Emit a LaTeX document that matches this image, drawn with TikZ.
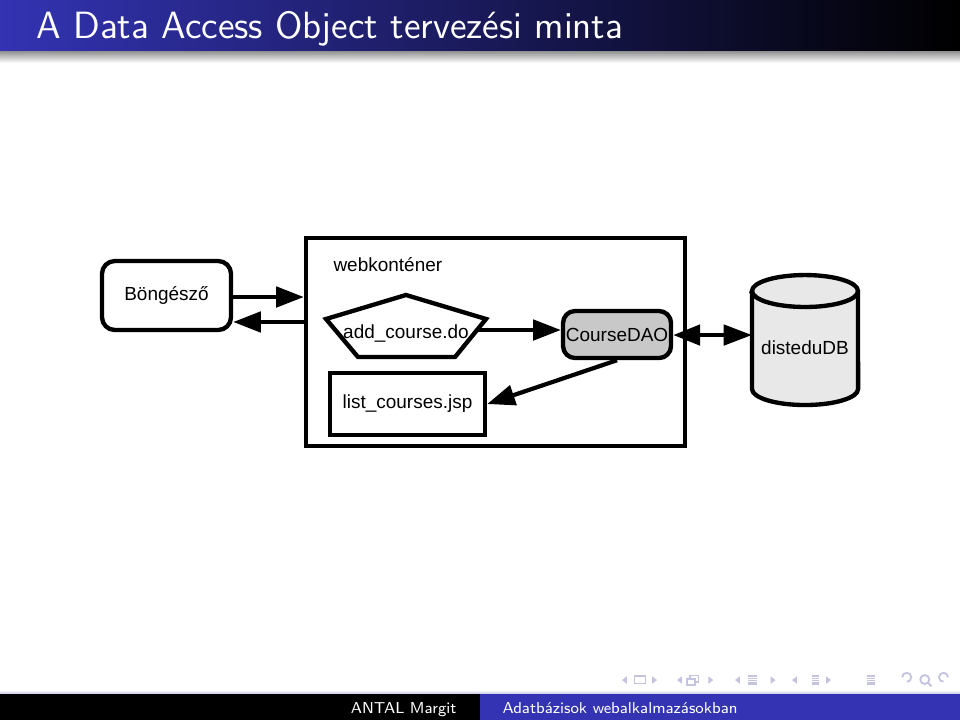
\documentclass[tikz,border=0pt]{standalone}
\usepackage{fontspec}
\newfontfamily\diafont{Liberation Sans}
\usetikzlibrary{positioning, arrows.meta, calc}
\definecolor{beamerblue}{RGB}{51,51,179}
\definecolor{daogray}{RGB}{200,200,200}
\definecolor{dbgray}{RGB}{232,232,232}
\definecolor{navgray}{RGB}{196,196,224}

\begin{document}
\begin{tikzpicture}[
  dia/.style={font=\diafont\fontsize{7.2}{8.6}\selectfont},
  box/.style={dia, draw, line width=1.65pt, inner sep=0pt, align=center},
  link/.style={line width=1.6pt, -{Triangle[length=3.7mm,width=2.7mm]}},
  duplex/.style={line width=1.6pt, {Triangle[length=3.6mm,width=2.7mm]}-{Triangle[length=3.8mm,width=2.7mm]}},
  foot/.style={font=\sffamily\fontsize{6}{7}\selectfont, text=white, inner sep=0pt}
]
  % slide frame
  \useasboundingbox (0,0) rectangle (12.8,-9.6);
  \fill[white] (0,0) rectangle (12.8,-9.6);
  \shade[left color=beamerblue, right color=black] (0,0) rectangle (12.8,-0.693);
  \shade[top color=black!40, bottom color=white] (0,-0.693) rectangle (12.8,-0.84);
  \node[anchor=base west, inner sep=0pt, text=white,
        font=\sffamily\fontsize{14.4}{17}\selectfont] (title) at (0.48,-0.507)
        {A Data Access Object tervezési minta};

  % footline
  \shade[top color=white, bottom color=navgray] (0,-9.2) rectangle (12.8,-9.253);
  \fill[black] (0,-9.253) rectangle (6.4,-9.6);
  \fill[beamerblue] (6.4,-9.253) rectangle (12.8,-9.6);
  \node[foot, anchor=base east] (author) at (6.093,-9.507) {ANTAL Margit};
  \node[foot, anchor=base west] (course) at (6.693,-9.507) {Adatbázisok webalkalmazásokban};

  % navigation symbols
  \foreach \l/\r in {8.293/8.76, 9.027/9.51, 9.8/10.34, 10.56/11.08} {
    \fill[navgray] (\l,-9.067) -- ++(0.065,0.05) -- ++(0,-0.1) -- cycle;
    \fill[navgray] (\r,-9.067) -- ++(-0.065,0.05) -- ++(0,-0.1) -- cycle;
  }
  \draw[navgray, line width=0.6pt] (8.46,-9.015) rectangle (8.607,-9.115);
  \draw[navgray, line width=0.6pt] (9.16,-9.05) rectangle (9.27,-9.135)
        (9.2,-9.05) -- (9.2,-9.005) -- (9.315,-9.005) -- (9.315,-9.09) -- (9.27,-9.09);
  \foreach \x/\w in {9.973/0.12, 10.827/0.09, 11.56/0.1}
    \foreach \y in {-9.015,-9.045,-9.075,-9.105,-9.13}
      \draw[navgray, line width=0.5pt] (\x,\y) -- ++(\w,0);
  \draw[navgray, line width=0.7pt] (12.03,-9.03) arc[start angle=180, end angle=-90, radius=0.06];
  \draw[navgray, line width=0.7pt] (12.33,-9.06) circle[radius=0.06] (12.375,-9.105) -- (12.42,-9.15);
  \draw[navgray, line width=0.7pt] (12.64,-9.03) arc[start angle=0, end angle=270, radius=0.06];

  % diagram
  \node[box, rounded corners=1.7mm, minimum width=1.72cm, minimum height=0.92cm] (bong) at (2.22,-3.94) {Böngésző};
  \node[box, minimum width=5.053cm, minimum height=2.773cm] (cont) at (6.607,-4.56) {};
  \node[dia, anchor=west, inner sep=0pt] (contlabel) at (4.44,-3.533) {webkonténer};

  \draw[line width=1.65pt] (5.413,-3.933) -- (6.48,-4.253) -- (6.067,-4.76)
        -- (4.773,-4.76) -- (4.347,-4.253) -- cycle;
  \node[dia, inner sep=0pt] (addc) at (5.413,-4.44) {add\_course.do};
  \coordinate (addr) at (6.36,-4.4);

  \node[box, fill=daogray, rounded corners=1.6mm, minimum width=1.44cm, minimum height=0.627cm] (cdao) at (8.227,-4.46) {CourseDAO};
  \node[box, minimum width=2.067cm, minimum height=0.827cm] (lcj) at (5.433,-5.387) {list\_courses.jsp};

  \draw[line width=1.65pt, fill=dbgray] (10.027,-3.88) -- (10.027,-5.187)
        arc[start angle=180, end angle=360, x radius=0.707, y radius=0.213] -- (11.44,-3.88)
        arc[start angle=0, end angle=180, x radius=0.707, y radius=0.213] -- cycle;
  \draw[line width=1.65pt] (10.027,-3.88) arc[start angle=180, end angle=360, x radius=0.707, y radius=0.213];
  \node[dia, inner sep=0pt] (db) at (10.733,-4.64) {disteduDB};
  \coordinate (dbl) at (10.027,-4.467);

  \draw[link] ([yshift=-0.02cm]bong.east) -- ([yshift=-0.02cm]bong.east -| cont.west);
  \draw[link] ([yshift=-0.353cm]bong.east -| cont.west) -- ([yshift=-0.353cm]bong.east);
  \draw[link] (addr) -- (addr -| cdao.west);
  \draw[duplex] (cdao.east |- dbl) -- (dbl);
  \draw[link] (cdao.south) -- (lcj.east);
\end{tikzpicture}
\end{document}
